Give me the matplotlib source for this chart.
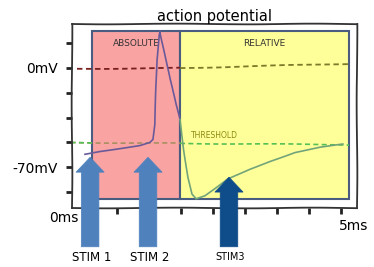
import matplotlib
matplotlib.use("Agg")
import matplotlib.pyplot as plt
from matplotlib.patches import Rectangle, FancyArrow

# curva del potencial de accion (ms en unidades de tick, mV)
t_subida = [0.0, 0.47, 1.09, 1.72, 2.03, 2.125, 2.19, 2.22, 2.25, 2.31, 2.34,
            2.47, 2.66, 2.84, 2.97]
v_subida = [-60.9, -58.8, -56.7, -54.6, -52.5, -50.4, -39.9, -15.4, 5.6, 23.1, 25.9,
            12.6, -8.4, -25.9, -36.4]
t_bajada = [2.97, 3.09, 3.22, 3.34, 3.47, 3.75, 4.06, 4.47, 5.16, 5.78, 6.56, 7.34, 8.06]
v_bajada = [-36.4, -57.4, -77.0, -88.9, -92.4, -90.3, -85.4, -78.4, -71.4, -65.8,
            -59.5, -56.0, -53.9]

# lineas de referencia
cero_x = [-0.25, 2.97, 8.25]
cero_y = [-0.7, -0.2, 2.8]
umbral_x = [-0.45, 2.97, 8.25]
umbral_y = [-52.6, -53.2, -54.2]

# periodos refractarios
periodos = ["ABSOLUTE", "RELATIVE"]
periodo_ini = [0.22, 2.97]
periodo_fin = [2.97, 8.25]

# estimulos
estimulos = ["STIM 1", "STIM 2", "STIM3"]
estim_x = [0.16, 1.97, 4.5]
estim_punta = [-63, -63, -77]

yticks = [17.5, 0, -17.5, -35, -52.5, -70, -87.5]
ytick_labels = ["", "0mV", "", "", "", "-70mV", ""]
xticks = [0, 1, 2, 3, 4, 5, 6, 7, 8]

plt.xkcd(scale=0.35, length=150, randomness=2)
plt.rcParams['font.family'] = ['DejaVu Sans']
plt.rcParams['path.effects'] = []

fig = plt.figure(figsize=(3.74, 2.67), dpi=100)
ax = fig.add_axes([0.1925, 0.221, 0.762, 0.689])
ax.set_xlim(-0.406, 8.5)
ax.set_ylim(-98.7, 30.8)

colores = ["#F9A3A3", "#FFFF99"]
for nombre, x0, x1, c in zip(periodos, periodo_ini, periodo_fin, colores):
    rect = Rectangle((x0, -92.4), x1 - x0, 25.9 + 92.4, facecolor=c,
                     edgecolor="#4a5c80", linewidth=1.5, zorder=1)
    rect.set_sketch_params(None)
    ax.add_patch(rect)
    ax.text((x0 + x1) / 2, 17.3, nombre, ha="center", va="center",
            fontsize=6.5, color="#333333", zorder=3)

# 0mV
ax.plot(cero_x[:2], cero_y[:2], ls=(0, (3, 2)), color="#7a1f1f", lw=1.3, zorder=2)
ax.plot(cero_x[1:], cero_y[1:], ls=(0, (3, 2)), color="#7a7a2a", lw=1.3, zorder=2)
# umbral
ax.plot(umbral_x[:2], umbral_y[:2], ls=(0, (3, 2)), color="#a89060", lw=1.2, zorder=2)
ax.plot([umbral_x[0], 0.22], [umbral_y[0], -52.7], ls=(0, (3, 2)), color="#55c055", lw=1.2, zorder=2)
ax.plot(umbral_x[1:], umbral_y[1:], ls=(0, (3, 2)), color="#55c055", lw=1.2, zorder=2)
ax.text(3.3, -47.5, "THRESHOLD", fontsize=5.5, color="#8a8a10", va="center", zorder=3)

ax.plot(t_subida, v_subida, color="#6a5a9a", lw=1.2, zorder=4)
ax.plot(t_bajada, v_bajada, color="#72a47a", lw=1.2, zorder=4)

colores_flecha = ["#4F81BD", "#4F81BD", "#0F4C8A"]
for nombre, x, punta, c in zip(estimulos, estim_x, estim_punta, colores_flecha):
    base = -126
    flecha = FancyArrow(x, base, 0, punta - base, width=0.55, head_width=0.88,
                        head_length=10.5, length_includes_head=True,
                        facecolor=c, edgecolor=c, lw=0.5, zorder=6, clip_on=False)
    flecha.set_sketch_params(None)
    ax.add_patch(flecha)
    fs = 7 if nombre == "STIM3" else 8.5
    ax.text(x + 0.05, -133.5, nombre, ha="center", va="center", fontsize=fs,
            color="black", clip_on=False)

ax.set_yticks(yticks)
ax.set_yticklabels(ytick_labels, fontsize=10)
ax.set_xticks(xticks)
ax.set_xticklabels([""] * len(xticks))
ax.tick_params(axis="both", direction="out", length=4, width=2, color="#222222", pad=6)

ax.text(-0.65, -105.5, "0ms", ha="center", va="center", fontsize=10, clip_on=False)
ax.text(8.4, -111.5, "5ms", ha="center", va="center", fontsize=10, clip_on=False)

for s in ax.spines.values():
    s.set_linewidth(1.3)
    s.set_color("#333333")

ax.set_title("action potential", fontsize=10.5, pad=2)

fig.savefig("out.png", dpi=100)
